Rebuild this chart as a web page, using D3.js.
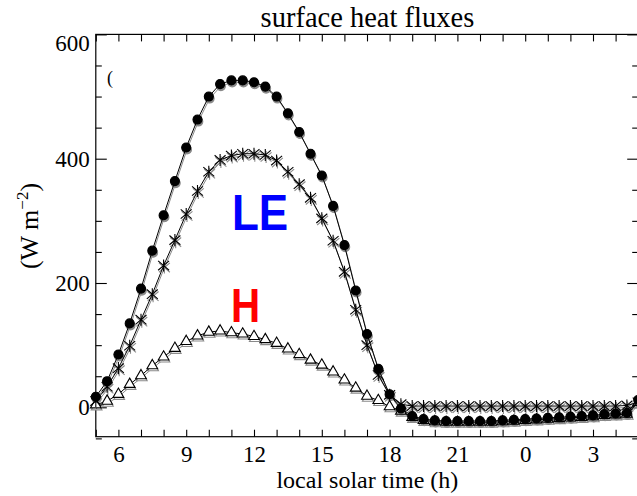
<!DOCTYPE html>
<html lang="en">
<head>
<meta charset="utf-8">
<title>surface heat fluxes</title>
<script src="https://d3js.org/d3.v7.min.js"></script>
<style>
  html, body { margin: 0; padding: 0; background: white; overflow: hidden; }
  svg { display: block; }
  text { font-family: "Liberation Serif", "Times New Roman", serif; fill: black; }
</style>
</head>
<body>
<script>
// local solar time (h), half-hourly, 05:00 -> 05:00 next day (values past 24 wrap on the axis)
const hours = [5, 5.5, 6, 6.5, 7, 7.5, 8, 8.5, 9, 9.5, 10, 10.5, 11, 11.5, 12, 12.5,
               13, 13.5, 14, 14.5, 15, 15.5, 16, 16.5, 17, 17.5, 18, 18.5, 19, 19.5, 20, 20.5,
               21, 21.5, 22, 22.5, 23, 23.5, 24, 24.5, 25, 25.5, 26, 26.5, 27, 27.5, 28, 28.5, 29];

// filled circles (top curve)
const fluxTotal = [17, 42, 85, 135, 191, 252, 309, 364, 418, 463, 500, 520, 526, 526, 523, 516,
                   500, 473, 443, 408, 373, 324, 261, 188, 118, 62, 21, -2, -14, -19, -21, -22,
                   -22, -22, -22, -22, -21, -20, -19, -18, -17, -16, -15, -14, -13, -11, -10, -9, 12];

// asterisks (LE)
const fluxLE = [10, 33, 63, 99, 141, 182, 228, 269, 311, 348, 379, 398, 405, 408, 408, 406,
                397, 379, 359, 337, 304, 268, 218, 157, 100, 52, 20, 5, 2, 2, 2, 2,
                2, 2, 2, 2, 2, 2, 2, 2, 2, 2, 2, 2, 2, 2, 2, 3, 8];

// open triangles (H)
const fluxH = [4, 10, 21, 37, 51, 67, 81, 95, 106, 115, 121, 123, 120, 118, 114, 109,
               103, 94, 85, 76, 68, 57, 44, 31, 18, 11, 1, -6, -16, -21, -23, -24,
               -24, -24, -24, -24, -23, -22, -21, -20, -19, -18, -17, -16, -15, -13, -12, -11, 8];

const xTickLabels = [6, 9, 12, 15, 18, 21, 24, 27];
const yMajor = [0, 200, 400, 600];
const yMinor = [-50, 50, 100, 150, 250, 300, 350, 450, 500, 550];

const w = 637, h = 496;
const margin = {left: 95.8, top: 34.4};
const innerWidth = 24 * 22.6;
const innerHeight = 436.7 - margin.top;

const x = d3.scaleLinear().domain([5, 29]).range([0, innerWidth]);
const y = d3.scaleLinear().domain([-47.3, 600]).range([innerHeight, 0]);

const svg = d3.select("body").append("svg")
  .attr("width", w)
  .attr("height", h);

svg.append("rect").attr("width", w).attr("height", h).attr("fill", "white");

// title
svg.append("text")
  .attr("x", margin.left + (w - margin.left) / 2 + 1)
  .attr("y", 26.7)
  .attr("text-anchor", "middle")
  .style("font-size", "28.5px")
  .text("surface heat fluxes");

const g = svg.append("g").attr("transform", `translate(${margin.left},${margin.top})`);

// frame (right side runs just past the picture edge)
g.append("rect")
  .attr("width", innerWidth)
  .attr("height", innerHeight)
  .attr("fill", "none")
  .attr("stroke", "black")
  .attr("stroke-width", 1.2);

// x axes, a tick every hour, pointing inward
const hourTicks = hours.filter(t => t % 1 === 0);

const xBottom = d3.axisBottom(x)
  .tickValues(hourTicks)
  .tickSizeInner(-7)
  .tickSizeOuter(0)
  .tickPadding(9)
  .tickFormat(d => xTickLabels.includes(d) ? String(d % 24) : "");

g.append("g")
  .attr("transform", `translate(0,${innerHeight})`)
  .call(xBottom);

g.append("g")
  .call(d3.axisTop(x).tickValues(hourTicks).tickSizeInner(-7).tickSizeOuter(0).tickFormat(""));

// y axes, major + minor ticks inward
g.append("g")
  .call(d3.axisLeft(y).tickValues(yMajor).tickSizeInner(-11).tickSizeOuter(0).tickPadding(6).tickFormat(d3.format("d")));
g.append("g")
  .call(d3.axisLeft(y).tickValues(yMinor).tickSizeInner(-6).tickSizeOuter(0).tickFormat(""));
g.append("g")
  .attr("transform", `translate(${innerWidth},0)`)
  .call(d3.axisRight(y).tickValues(yMajor).tickSizeInner(-11).tickSizeOuter(0).tickFormat(""));
g.append("g")
  .attr("transform", `translate(${innerWidth},0)`)
  .call(d3.axisRight(y).tickValues(yMinor).tickSizeInner(-6).tickSizeOuter(0).tickFormat(""));

g.selectAll(".domain").remove();
g.selectAll(".tick text").filter(function() { return this.textContent === ""; }).remove();
g.selectAll(".tick line").attr("stroke", "black").attr("stroke-width", 1.1);
g.selectAll(".tick text")
  .style("font-family", '"Liberation Serif", "Times New Roman", serif')
  .style("font-size", "23px")
  .attr("fill", "black");
// top label sits just below the frame
g.selectAll(".tick text").filter(d => d === 600).attr("dy", "0.69em");

// axis titles
svg.append("text")
  .attr("x", margin.left + (w - margin.left) / 2 + 1)
  .attr("y", 488)
  .attr("text-anchor", "middle")
  .style("font-size", "24px")
  .text("local solar time (h)");

const yt = svg.append("text")
  .attr("transform", "translate(38,226) rotate(-90)")
  .attr("text-anchor", "middle")
  .style("font-size", "26px");
yt.append("tspan").text("(W m");
yt.append("tspan").attr("dy", -10).style("font-size", "17px").text("\u22122");
yt.append("tspan").attr("dy", 10).text(")");

// stray bracket left over from a clipped legend
svg.append("text").attr("x", 107).attr("y", 84).style("font-size", "18px").text("(");

// custom asterisk symbol: an X with a vertical bar
const asterisk = {
  draw(context, size) {
    const r = Math.sqrt(size) / 2;
    context.moveTo(-r, -r * 0.85); context.lineTo(r, r * 0.85);
    context.moveTo(-r, r * 0.85); context.lineTo(r, -r * 0.85);
    context.moveTo(0, -r * 1.1); context.lineTo(0, r * 1.1);
  }
};

const series = [
  {values: fluxH, type: d3.symbolTriangle, size: 50, fill: "white"},
  {values: fluxTotal, type: d3.symbolCircle, size: 64, fill: "black"},
  {values: fluxLE, type: asterisk, size: 120, fill: "none"}
];

const line = d3.line().x((d, i) => x(hours[i])).y(d => y(d));

// each curve drawn twice: a grey companion run underneath, then the black one
[{dx: 0.8, dy: 2, color: "#8a8a8a"}, {dx: 0, dy: 0, color: "black"}].forEach(layer => {
  const lg = g.append("g").attr("transform", `translate(${layer.dx},${layer.dy})`);
  series.forEach(s => {
    lg.append("path")
      .datum(s.values)
      .attr("d", line)
      .attr("fill", "none")
      .attr("stroke", layer.color)
      .attr("stroke-width", 1);
    lg.selectAll(null)
      .data(s.values)
      .enter().append("path")
      .attr("transform", (d, i) => `translate(${x(hours[i])},${y(d)})`)
      .attr("d", d3.symbol().type(s.type).size(s.size))
      .attr("fill", s.fill === "black" ? layer.color : s.fill)
      .attr("stroke", layer.color)
      .attr("stroke-width", 1.1);
  });
});

// labels inside the plot
svg.append("text")
  .attr("transform", "translate(232,230) scale(0.88,1)")
  .style("font-family", '"Liberation Sans", Arial, sans-serif')
  .style("font-weight", "bold")
  .style("font-size", "50px")
  .style("fill", "#0000ff")
  .text("LE");

svg.append("text")
  .attr("transform", "translate(231,322) scale(0.85,1)")
  .style("font-family", '"Liberation Sans", Arial, sans-serif')
  .style("font-weight", "bold")
  .style("font-size", "47.5px")
  .style("fill", "#ff0000")
  .text("H");
</script>
</body>
</html>
